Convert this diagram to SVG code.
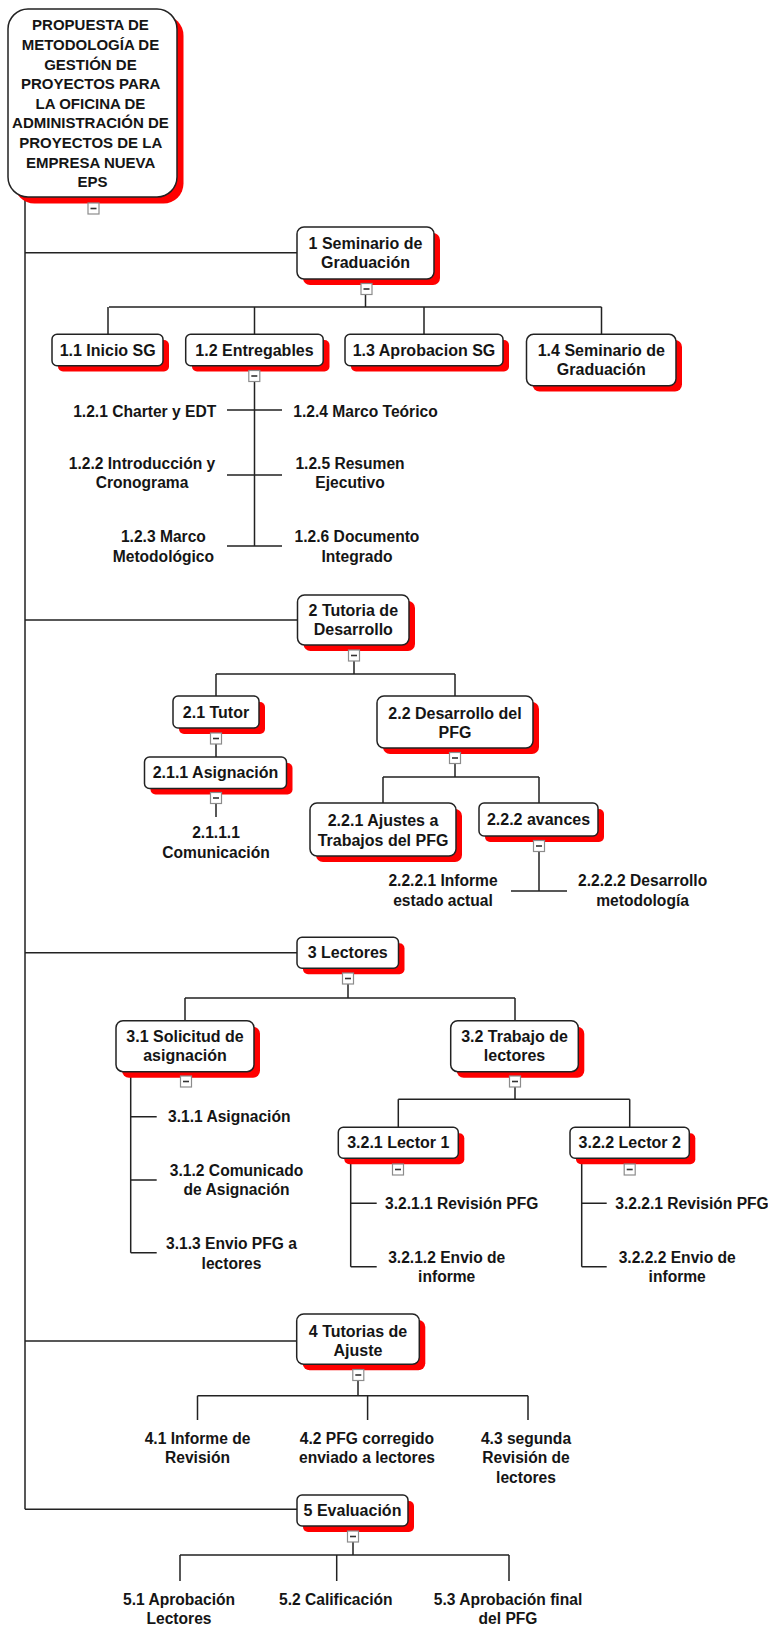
<svg xmlns="http://www.w3.org/2000/svg" xmlns:xlink="http://www.w3.org/1999/xlink" width="768" height="1625" viewBox="0 0 768 1625">
  <style>
    .shadow { fill: #ff0000; }
    .box { fill: #ffffff; stroke: #222222; stroke-width: 1.5; }
    .t { font-family: "Liberation Sans", Arial, sans-serif; font-weight: bold; font-size: 16px; fill: #151515; text-anchor: middle; }
    .lbl { font-size: 15.6px; }
    .root { font-size: 15px; }
    .conn { fill: none; stroke: #222222; stroke-width: 1.5; }
  </style>
  <defs>
    <g id="toggle">
      <rect x="-5.5" y="-5.5" width="11" height="11" fill="#ffffff" stroke="#8c8c8c" stroke-width="1.2"/>
      <line x1="-3" y1="0" x2="3" y2="0" stroke="#333333" stroke-width="1.6"/>
    </g>
  </defs>
  <rect width="768" height="1625" fill="#ffffff"/>

  <!-- connectors -->
  <g id="connectors" class="conn">
    <!-- main trunk -->
    <path d="M25 197 V1509.3 M25 252.7 H297 M25 620 H297.5 M25 952.7 H297 M25 1341 H297 M25 1509.3 H297"/>
    <!-- 1 Seminario -->
    <path d="M365.5 279 V307 M109 307 H601.5 M108 307 V334 M254.5 307 V334 M424 307 V334 M601.5 307 V334"/>
    <!-- 1.2 deliverables -->
    <path d="M254.5 366 V546 M227 410 H282 M227 475 H282 M227 546 H282"/>
    <!-- 2 Tutoria -->
    <path d="M354 645 V674 M216 674 H455 M216 674 V696 M455 674 V696"/>
    <path d="M216 728 V757 M216 788.5 V817"/>
    <path d="M455 748 V777 M383 777 H539 M383 777 V803 M539 777 V803"/>
    <path d="M539 836 V891 M511 891 H567"/>
    <!-- 3 Lectores -->
    <path d="M348 968.3 V998 M185 998 H515 M185 998 V1020.7 M515 998 V1020.7"/>
    <path d="M130.7 1071.7 V1252.7 M130.7 1116.7 H156.7 M130.7 1180 H156.7 M130.7 1252.7 H156.7"/>
    <path d="M515 1071.7 V1099.3 M398.3 1099.3 H629.7 M398.3 1099.3 V1127.3 M629.7 1099.3 V1127.3"/>
    <path d="M350.7 1158.3 V1266.7 M350.7 1203.3 H376.7 M350.7 1266.7 H376.7"/>
    <path d="M581.7 1158.3 V1266.7 M581.7 1203.3 H606.7 M581.7 1266.7 H606.7"/>
    <!-- 4 Tutorias de Ajuste -->
    <path d="M358 1364.3 V1395.7 M197.5 1395.7 H528 M197.5 1395.7 V1420 M367.6 1395.7 V1420 M528 1395.7 V1420"/>
    <!-- 5 Evaluacion -->
    <path d="M353 1526 V1555 M180 1555 H509 M180 1555 V1581 M336.7 1555 V1581 M509 1555 V1581"/>
  </g>

  <!-- root -->
  <g id="node-root">
    <rect class="shadow" x="14.5" y="15.5" width="169" height="188" rx="20"/>
    <rect class="box" x="8" y="9" width="169" height="188" rx="20"/>
    <text class="t root" x="92.5" y="30.4">
      <tspan x="92.5">PROPUESTA DE</tspan>
      <tspan x="92.5" dy="19.6">METODOLOGÍA DE</tspan>
      <tspan x="92.5" dy="19.6">GESTIÓN DE</tspan>
      <tspan x="92.5" dy="19.6">PROYECTOS PARA</tspan>
      <tspan x="92.5" dy="19.6">LA OFICINA DE</tspan>
      <tspan x="92.5" dy="19.6">ADMINISTRACIÓN DE</tspan>
      <tspan x="92.5" dy="19.6">PROYECTOS DE LA</tspan>
      <tspan x="92.5" dy="19.6">EMPRESA NUEVA</tspan>
      <tspan x="92.5" dy="19.6">EPS</tspan>
    </text>
    <use xlink:href="#toggle" x="93.5" y="208.5"/>
  </g>

  <!-- level 1 -->
  <g id="node-1">
    <rect class="shadow" x="303" y="233" width="137" height="52" rx="7"/>
    <rect class="box" x="297" y="227" width="137" height="52" rx="7"/>
    <text class="t" x="365.5" y="248.8"><tspan x="365.5">1 Seminario de</tspan><tspan x="365.5" dy="19.4">Graduación</tspan></text>
    <use xlink:href="#toggle" x="366.5" y="289"/>
  </g>
  <g id="node-1-1">
    <rect class="shadow" x="58" y="340" width="111" height="31.5" rx="5"/>
    <rect class="box" x="52" y="334.3" width="111" height="31.5" rx="5"/>
    <text class="t" x="107.7" y="355.7">1.1 Inicio SG</text>
  </g>
  <g id="node-1-2">
    <rect class="shadow" x="192" y="340" width="137.5" height="31.5" rx="5"/>
    <rect class="box" x="185.7" y="334.3" width="137.5" height="31.5" rx="5"/>
    <text class="t" x="254.5" y="355.7">1.2 Entregables</text>
    <use xlink:href="#toggle" x="254.3" y="376"/>
  </g>
  <g id="node-1-3">
    <rect class="shadow" x="351" y="340" width="158" height="31.5" rx="5"/>
    <rect class="box" x="345" y="334.3" width="158" height="31.5" rx="5"/>
    <text class="t" x="424" y="355.7">1.3 Aprobacion SG</text>
  </g>
  <g id="node-1-4">
    <rect class="shadow" x="532.5" y="340" width="149.5" height="51.5" rx="7"/>
    <rect class="box" x="526.5" y="334.3" width="149.5" height="51.5" rx="7"/>
    <text class="t" x="601.3" y="355.8"><tspan x="601.3">1.4 Seminario de</tspan><tspan x="601.3" dy="19.4">Graduación</tspan></text>
  </g>

  <!-- 1.2 work packages -->
  <g id="wp-1-2-1"><text class="t lbl" x="144.7" y="416.5">1.2.1 Charter y EDT</text></g>
  <g id="wp-1-2-2"><text class="t lbl" x="142" y="468.8"><tspan x="142">1.2.2 Introducción y</tspan><tspan x="142" dy="19.4">Cronograma</tspan></text></g>
  <g id="wp-1-2-3"><text class="t lbl" x="163.4" y="542.2"><tspan x="163.4">1.2.3 Marco</tspan><tspan x="163.4" dy="19.4">Metodológico</tspan></text></g>
  <g id="wp-1-2-4"><text class="t lbl" x="365.5" y="416.5">1.2.4 Marco Teórico</text></g>
  <g id="wp-1-2-5"><text class="t lbl" x="350" y="468.8"><tspan x="350">1.2.5 Resumen</tspan><tspan x="350" dy="19.4">Ejecutivo</tspan></text></g>
  <g id="wp-1-2-6"><text class="t lbl" x="357" y="542.2"><tspan x="357">1.2.6 Documento</tspan><tspan x="357" dy="19.4">Integrado</tspan></text></g>

  <!-- level 2 -->
  <g id="node-2">
    <rect class="shadow" x="303.5" y="601" width="111.5" height="50" rx="7"/>
    <rect class="box" x="297.5" y="595" width="111.5" height="50" rx="7"/>
    <text class="t" x="353.3" y="615.5"><tspan x="353.3">2 Tutoria de</tspan><tspan x="353.3" dy="19.4">Desarrollo</tspan></text>
    <use xlink:href="#toggle" x="354" y="655.5"/>
  </g>
  <g id="node-2-1">
    <rect class="shadow" x="179" y="702" width="86" height="32" rx="5"/>
    <rect class="box" x="173" y="696" width="86" height="32" rx="5"/>
    <text class="t" x="216" y="717.5">2.1 Tutor</text>
    <use xlink:href="#toggle" x="216" y="738.5"/>
  </g>
  <g id="node-2-1-1">
    <rect class="shadow" x="150.5" y="763" width="142" height="31.5" rx="5"/>
    <rect class="box" x="144.5" y="757" width="142" height="31.5" rx="5"/>
    <text class="t" x="215.5" y="778.3">2.1.1 Asignación</text>
    <use xlink:href="#toggle" x="216" y="798"/>
  </g>
  <g id="wp-2-1-1-1"><text class="t lbl" x="216" y="838.2"><tspan x="216">2.1.1.1</tspan><tspan x="216" dy="20">Comunicación</tspan></text></g>
  <g id="node-2-2">
    <rect class="shadow" x="383" y="702" width="156" height="52" rx="7"/>
    <rect class="box" x="377" y="696" width="156" height="52" rx="7"/>
    <text class="t" x="455" y="718.8"><tspan x="455">2.2 Desarrollo del</tspan><tspan x="455" dy="19.4">PFG</tspan></text>
    <use xlink:href="#toggle" x="455" y="758"/>
  </g>
  <g id="node-2-2-1">
    <rect class="shadow" x="316" y="809" width="146" height="53" rx="7"/>
    <rect class="box" x="310" y="803" width="146" height="53" rx="7"/>
    <text class="t" x="383" y="825.5"><tspan x="383">2.2.1 Ajustes a</tspan><tspan x="383" dy="20">Trabajos del PFG</tspan></text>
  </g>
  <g id="node-2-2-2">
    <rect class="shadow" x="485" y="809" width="119" height="33" rx="5"/>
    <rect class="box" x="479" y="803" width="119" height="33" rx="5"/>
    <text class="t" x="538.5" y="825">2.2.2 avances</text>
    <use xlink:href="#toggle" x="539" y="846"/>
  </g>
  <g id="wp-2-2-2-1"><text class="t lbl" x="443" y="886.2"><tspan x="443">2.2.2.1 Informe</tspan><tspan x="443" dy="20">estado actual</tspan></text></g>
  <g id="wp-2-2-2-2"><text class="t lbl" x="642.6" y="886.2"><tspan x="642.6">2.2.2.2 Desarrollo</tspan><tspan x="642.6" dy="20">metodología</tspan></text></g>

  <!-- level 3 -->
  <g id="node-3">
    <rect class="shadow" x="303" y="943.3" width="101.5" height="31" rx="5"/>
    <rect class="box" x="297" y="937.3" width="101.5" height="31" rx="5"/>
    <text class="t" x="347.7" y="958.3">3 Lectores</text>
    <use xlink:href="#toggle" x="348" y="978.5"/>
  </g>
  <g id="node-3-1">
    <rect class="shadow" x="122" y="1026.7" width="138" height="51" rx="7"/>
    <rect class="box" x="116" y="1020.7" width="138" height="51" rx="7"/>
    <text class="t" x="185" y="1041.5"><tspan x="185">3.1 Solicitud de</tspan><tspan x="185" dy="19">asignación</tspan></text>
    <use xlink:href="#toggle" x="186" y="1081.5"/>
  </g>
  <g id="wp-3-1-1"><text class="t lbl" x="229.2" y="1122.2">3.1.1 Asignación</text></g>
  <g id="wp-3-1-2"><text class="t lbl" x="236.6" y="1175.5"><tspan x="236.6">3.1.2 Comunicado</tspan><tspan x="236.6" dy="19.4">de Asignación</tspan></text></g>
  <g id="wp-3-1-3"><text class="t lbl" x="231.5" y="1248.8"><tspan x="231.5">3.1.3 Envio PFG a</tspan><tspan x="231.5" dy="20">lectores</tspan></text></g>
  <g id="node-3-2">
    <rect class="shadow" x="456.7" y="1026.7" width="127.6" height="51" rx="7"/>
    <rect class="box" x="450.7" y="1020.7" width="127.6" height="51" rx="7"/>
    <text class="t" x="514.5" y="1041.5"><tspan x="514.5">3.2 Trabajo de</tspan><tspan x="514.5" dy="19">lectores</tspan></text>
    <use xlink:href="#toggle" x="515" y="1081.5"/>
  </g>
  <g id="node-3-2-1">
    <rect class="shadow" x="344.3" y="1133.3" width="120" height="31" rx="5"/>
    <rect class="box" x="338.3" y="1127.3" width="120" height="31" rx="5"/>
    <text class="t" x="398.3" y="1148.3">3.2.1 Lector 1</text>
    <use xlink:href="#toggle" x="398" y="1169.5"/>
  </g>
  <g id="wp-3-2-1-1"><text class="t lbl" x="461.7" y="1208.8">3.2.1.1 Revisión PFG</text></g>
  <g id="wp-3-2-1-2"><text class="t lbl" x="446.7" y="1262.8"><tspan x="446.7">3.2.1.2 Envio de</tspan><tspan x="446.7" dy="19.4">informe</tspan></text></g>
  <g id="node-3-2-2">
    <rect class="shadow" x="576" y="1133.3" width="119.3" height="31" rx="5"/>
    <rect class="box" x="570" y="1127.3" width="119.3" height="31" rx="5"/>
    <text class="t" x="629.7" y="1148.3">3.2.2 Lector 2</text>
    <use xlink:href="#toggle" x="629.7" y="1169.5"/>
  </g>
  <g id="wp-3-2-2-1"><text class="t lbl" x="692" y="1208.8">3.2.2.1 Revisión PFG</text></g>
  <g id="wp-3-2-2-2"><text class="t lbl" x="677.2" y="1262.8"><tspan x="677.2">3.2.2.2 Envio de</tspan><tspan x="677.2" dy="19.4">informe</tspan></text></g>

  <!-- level 4 -->
  <g id="node-4">
    <rect class="shadow" x="302.7" y="1320" width="122.6" height="50.3" rx="7"/>
    <rect class="box" x="296.7" y="1314" width="122.6" height="50.3" rx="7"/>
    <text class="t" x="358" y="1336.5"><tspan x="358">4 Tutorias de</tspan><tspan x="358" dy="19">Ajuste</tspan></text>
    <use xlink:href="#toggle" x="358.3" y="1375"/>
  </g>
  <g id="wp-4-1"><text class="t lbl" x="197.5" y="1443.8"><tspan x="197.5">4.1 Informe de</tspan><tspan x="197.5" dy="19.4">Revisión</tspan></text></g>
  <g id="wp-4-2"><text class="t lbl" x="367" y="1443.8"><tspan x="367">4.2 PFG corregido</tspan><tspan x="367" dy="19.4">enviado a lectores</tspan></text></g>
  <g id="wp-4-3"><text class="t lbl" x="526" y="1443.8"><tspan x="526">4.3 segunda</tspan><tspan x="526" dy="19.4">Revisión de</tspan><tspan x="526" dy="19.6">lectores</tspan></text></g>

  <!-- level 5 -->
  <g id="node-5">
    <rect class="shadow" x="303" y="1501" width="111" height="31" rx="5"/>
    <rect class="box" x="297" y="1495" width="111" height="31" rx="5"/>
    <text class="t" x="352.5" y="1516">5 Evaluación</text>
    <use xlink:href="#toggle" x="353" y="1536.5"/>
  </g>
  <g id="wp-5-1"><text class="t lbl" x="179" y="1604.5"><tspan x="179">5.1 Aprobación</tspan><tspan x="179" dy="19.4">Lectores</tspan></text></g>
  <g id="wp-5-2"><text class="t lbl" x="335.8" y="1604.5">5.2 Calificación</text></g>
  <g id="wp-5-3"><text class="t lbl" x="508" y="1604.5"><tspan x="508">5.3 Aprobación final</tspan><tspan x="508" dy="19.4">del PFG</tspan></text></g>
</svg>
